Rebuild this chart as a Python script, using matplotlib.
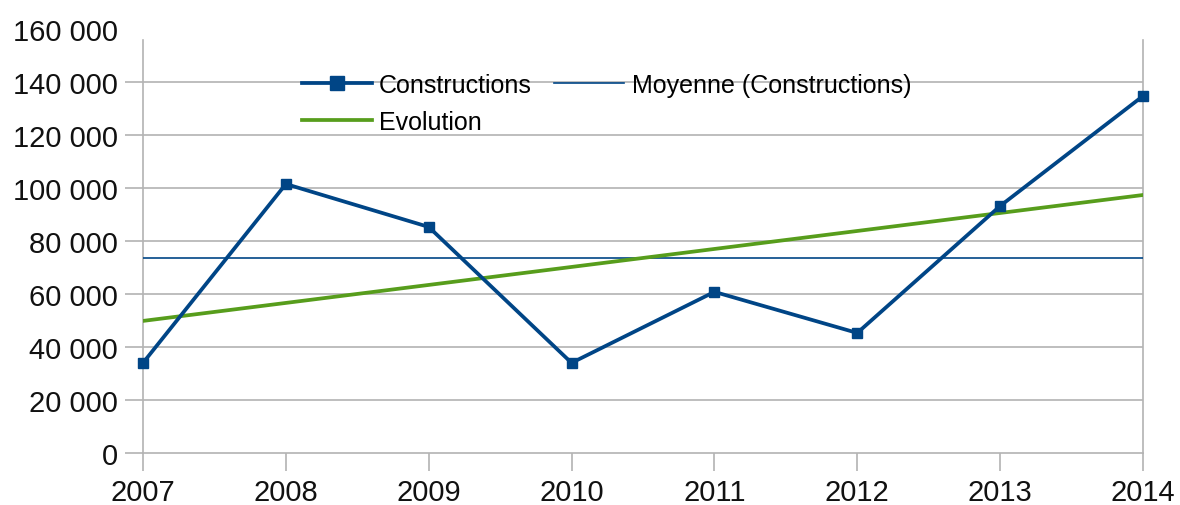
import numpy as np
import matplotlib
matplotlib.use("Agg")
import matplotlib.pyplot as plt
from matplotlib.ticker import FuncFormatter

# données
years = [2007, 2008, 2009, 2010, 2011, 2012, 2013, 2014]
constructions = [34000, 101500, 85300, 34000, 60800, 45300, 93200, 134700]

blue = "#004586"
green = "#579d1c"
grid = "#b3b3b3"

plt.rcParams["font.family"] = ["Liberation Sans", "DejaVu Sans"]

fig = plt.figure(figsize=(11.8, 5.06), dpi=100)
ax = fig.add_axes([0.1212, 0.1028, 0.8474, 0.8379])

# moyenne et tendance linéaire
mean = np.mean(constructions)
coef = np.polyfit(years, constructions, 1)
trend = np.polyval(coef, years)

l1, = ax.plot(years, constructions, color=blue, lw=2.7, marker="s", ms=7.5,
              label="Constructions", zorder=4, clip_on=False)
l2, = ax.plot([years[0], years[-1]], [mean, mean], color=blue, lw=1.2,
              label="Moyenne (Constructions)", zorder=3)
l3, = ax.plot(years, trend, color=green, lw=2.7, label="Evolution", zorder=3)

ax.set_xlim(years[0], years[-1])
ax.set_ylim(0, 160000)
ax.set_yticks(range(0, 160001, 20000))
ax.set_xticks(years)
ax.yaxis.set_major_formatter(FuncFormatter(lambda v, p: f"{int(v):,}".replace(",", " ")))

# grille horizontale sauf la ligne du haut
for v in range(20000, 140001, 20000):
    ax.axhline(v, color=grid, lw=1.2, zorder=1)
for s in ["left", "right", "bottom"]:
    ax.spines[s].set_color(grid)
    ax.spines[s].set_linewidth(1.2)
ax.spines["left"].set_bounds(0, 156000)
ax.spines["right"].set_bounds(0, 156000)
ax.spines["top"].set_visible(False)
ax.tick_params(colors=grid, length=13, width=1.2, labelcolor="#111111",
               labelsize=21, pad=5)
for t in ax.yaxis.get_major_ticks()[-1:]:
    t.tick1line.set_visible(False)

ax.legend([l1, l3, l2], ["Constructions", "Evolution", "Moyenne (Constructions)"],
          ncol=2, frameon=False, fontsize=18, loc="upper left",
          bbox_to_anchor=(0.245, 0.878), bbox_transform=fig.transFigure,
          borderpad=0, handlelength=2.8, handletextpad=0.3, columnspacing=0.9,
          labelspacing=0.5, markerscale=1.35)

fig.savefig("out.png", dpi=100)
